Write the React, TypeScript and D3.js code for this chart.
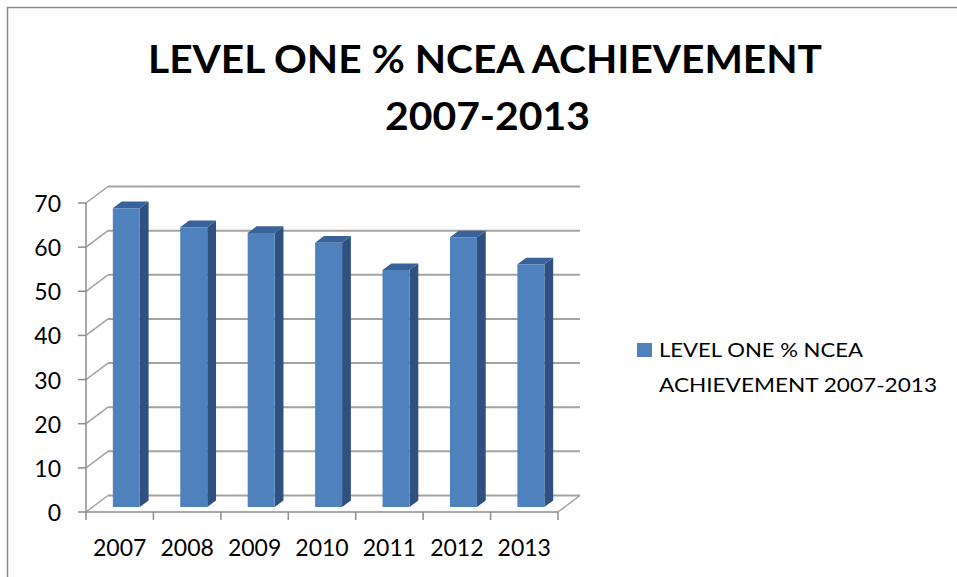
import React from "react";
import * as d3 from "d3";

const categories = ["2007", "2008", "2009", "2010", "2011", "2012", "2013"];
const values = [67.7, 63.4, 62.1, 59.9, 53.7, 61.1, 55.0];
const yTicks = [0, 10, 20, 30, 40, 50, 60, 70];
const titleLines = ["LEVEL ONE % NCEA ACHIEVEMENT", "2007-2013"];
const legendLines = ["LEVEL ONE % NCEA", "ACHIEVEMENT 2007-2013"];

export default function App() {
  const W = 957, H = 577;
  const x0 = 86, x1 = 558;
  const DX = 22, DY = -16.5;
  const x = d3.scaleBand<string>().domain(categories).range([x0, x1]).paddingInner(0).paddingOuter(0);
  const y = d3.scaleLinear().domain([0, 70]).range([512, 203]);
  const font = "Lato, 'Open Sans', 'DejaVu Sans', sans-serif";
  const grid = "#a3a3a3";
  const axis = "#8c8c8c";
  const fFront = 0.3, fBack = 0.7;
  const bw = x.bandwidth() * 0.4;

  const proj = (px: number, v: number, f: number) => [px + DX * f, y(v) + DY * f];

  return (
    <svg width={W} height={H} style={{ position: "absolute", left: 0, top: 0, background: "#fff" }}>
      <rect x={7.5} y={7.5} width={W + 20} height={H + 20} fill="#fff" stroke="#8a8a8a" strokeWidth={1.5} />
      {/* title */}
      <text x={485} y={73} textAnchor="middle" fontFamily={font} fontWeight="bold" fontSize={39}
        textLength={674} lengthAdjust="spacingAndGlyphs" fill="#000">{titleLines[0]}</text>
      <text x={487.5} y={130} textAnchor="middle" fontFamily={font} fontWeight="bold" fontSize={39}
        textLength={205} lengthAdjust="spacingAndGlyphs" fill="#000">{titleLines[1]}</text>

      {/* back wall gridlines and left wall diagonals */}
      {yTicks.map((t) => (
        <g key={"g" + t}>
          <line x1={x0 + DX} x2={x1 + DX} y1={y(t) + DY} y2={y(t) + DY} stroke={grid} strokeWidth={2} />
          <line x1={x0} x2={x0 + DX} y1={y(t)} y2={y(t) + DY} stroke={grid} strokeWidth={1.5} />
          <line x1={x0 - 8} x2={x0} y1={y(t)} y2={y(t)} stroke={axis} strokeWidth={1.5} />
          <text x={61} y={y(t) + 9} textAnchor="end" fontFamily={font} fontSize={23} fill="#000">{t}</text>
        </g>
      ))}
      {/* floor */}
      <line x1={x0} x2={x1} y1={y(0)} y2={y(0)} stroke={axis} strokeWidth={1.5} />
      <line x1={x1} x2={x1 + DX} y1={y(0)} y2={y(0) + DY} stroke={grid} strokeWidth={1.5} />
      <line x1={x0} x2={x0} y1={y(70)} y2={y(0)} stroke={axis} strokeWidth={1.5} />
      {categories.map((c, i) => (
        <line key={"xt" + i} x1={x.range()[0] + i * x.bandwidth()} x2={x.range()[0] + i * x.bandwidth()} y1={y(0)} y2={y(0) + 8} stroke={axis} strokeWidth={1.5} />
      ))}
      <line x1={x1} x2={x1} y1={y(0)} y2={y(0) + 8} stroke={axis} strokeWidth={1.5} />

      {/* bars */}
      {categories.map((c, i) => {
        const left = (x(c) as number) + x.bandwidth() * 0.3;
        const right = left + bw;
        const v = values[i];
        const fl0 = proj(left, 0, fFront), fr0 = proj(right, 0, fFront);
        const flv = proj(left, v, fFront), frv = proj(right, v, fFront);
        const br0 = proj(right, 0, fBack), brv = proj(right, v, fBack), blv = proj(left, v, fBack);
        const pts = (a: number[][]) => a.map((p) => p.join(",")).join(" ");
        return (
          <g key={"b" + c}>
            <polygon points={pts([fr0, frv, brv, br0])} fill="#2f5080" />
            <polygon points={pts([flv, frv, brv, blv])} fill="#3a629a" />
            <polygon points={pts([fl0, flv, frv, fr0])} fill="#4f81bd" />
          </g>
        );
      })}

      {/* x labels */}
      {categories.map((c) => (
        <text key={"xl" + c} x={(x(c) as number) + x.bandwidth() / 2} y={556} textAnchor="middle"
          fontFamily={font} fontSize={23} fill="#000">{c}</text>
      ))}

      {/* legend */}
      <rect x={637} y={343} width={15} height={14} fill="#4f81bd" />
      <text x={659} y={357} fontFamily={font} fontSize={20} textLength={204} lengthAdjust="spacingAndGlyphs" fill="#000">{legendLines[0]}</text>
      <text x={659} y={392} fontFamily={font} fontSize={20} textLength={278} lengthAdjust="spacingAndGlyphs" fill="#000">{legendLines[1]}</text>
    </svg>
  );
}
